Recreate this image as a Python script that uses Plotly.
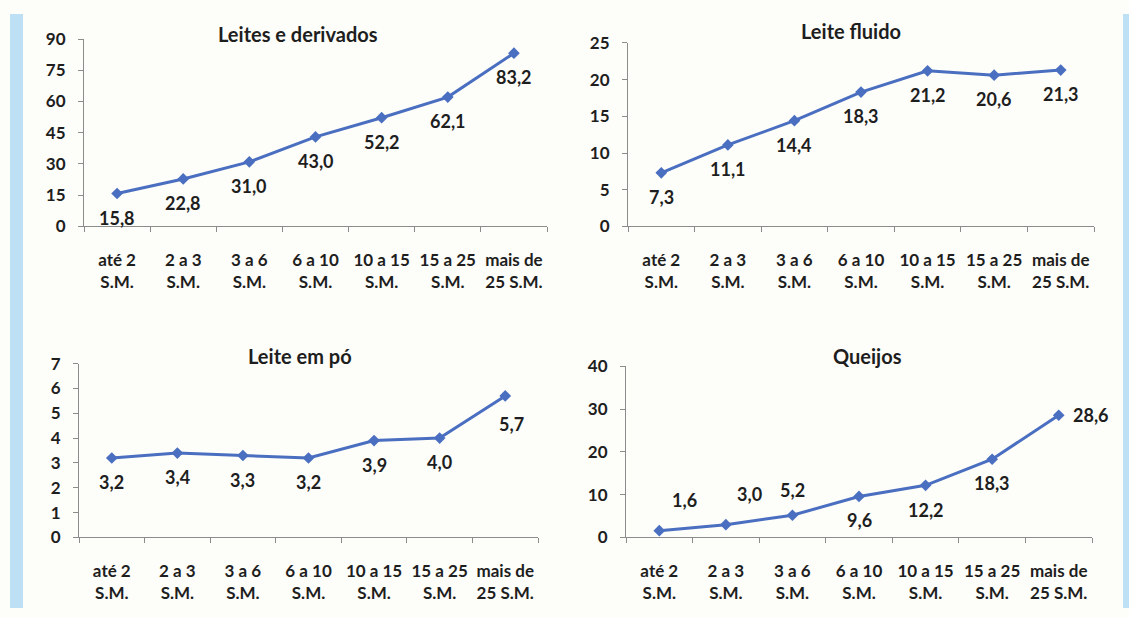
import plotly.graph_objects as go

categories = ["até 2<br>S.M.", "2 a 3<br>S.M.", "3 a 6<br>S.M.", "6 a 10<br>S.M.",
              "10 a 15<br>S.M.", "15 a 25<br>S.M.", "mais de<br>25 S.M."]

leites_derivados = [15.8, 22.8, 31.0, 43.0, 52.2, 62.1, 83.2]
leite_fluido = [7.3, 11.1, 14.4, 18.3, 21.2, 20.6, 21.3]
leite_po = [3.2, 3.4, 3.3, 3.2, 3.9, 4.0, 5.7]
queijos = [1.6, 3.0, 5.2, 9.6, 12.2, 18.3, 28.6]

titles = ["Leites e derivados", "Leite fluido", "Leite em pó", "Queijos"]
y_ranges = [(0, 90, 15), (0, 25, 5), (0, 7, 1), (0, 40, 10)]

# label offsets in px (xshift, yshift) per point (style only)
below = [(0, -24)] * 7
label_offsets = [
    below,
    below,
    [(0, -24)] * 6 + [(6, -28)],
    [(25, 31), (24, 31), (0, 25), (0, -24), (0, -25), (0, -24), (32, 0)],
]

W, H = 1129, 618
# plot areas in pixel coordinates: (x_left, x_right, y_top, y_bottom)
areas = [(84, 547, 29, 223), (628, 1094, 33, 223), (79, 538, 365, 545), (626, 1092, 368, 545)]
title_pos = [(298, 24), (851, 21), (300, 357), (867, 357)]

series = [leites_derivados, leite_fluido, leite_po, queijos]

LINE = "#4a6ec0"
FONT = "Lato"
TXT = "#1e1e1e"
BG = "#fdfdf9"
AXC = "#8c8c8c"

fig = go.Figure()
annotations = []
for i, (vals, (x0, x1, yt, yb)) in enumerate(zip(series, areas)):
    n = i + 1
    xa = "x" if n == 1 else f"x{n}"
    ya = "y" if n == 1 else f"y{n}"
    fig.add_trace(go.Scatter(
        x=categories, y=vals, mode="lines+markers",
        line=dict(color=LINE, width=3),
        marker=dict(symbol="diamond", size=9, color=LINE),
        xaxis=xa, yaxis=ya, showlegend=False, hoverinfo="skip"))
    lo, hi, dt = y_ranges[i]
    axx = dict(domain=[x0 / W, x1 / W], anchor=ya, type="category",
               range=[-0.5, 6.5], tickson="boundaries", ticks="outside", ticklen=5,
               tickcolor=AXC, showline=True, linecolor=AXC, linewidth=1,
               showgrid=False, zeroline=False, ticklabelstandoff=18, tickangle=0,
               tickfont=dict(family=FONT, size=17, color=TXT, weight="bold"))
    axy = dict(domain=[1 - yb / H, 1 - yt / H], anchor=xa, range=[lo, hi], dtick=dt,
               tick0=0, ticks="outside", ticklen=5, tickcolor=AXC,
               showline=True, linecolor=AXC, linewidth=1, showgrid=False,
               zeroline=False, ticklabelstandoff=9,
               tickfont=dict(family=FONT, size=17, color=TXT, weight="bold"))
    fig.layout[f"xaxis{'' if n == 1 else n}"] = axx
    fig.layout[f"yaxis{'' if n == 1 else n}"] = axy
    for j, v in enumerate(vals):
        dx, dy = label_offsets[i][j]
        annotations.append(dict(
            x=categories[j], y=v, xref=xa, yref=ya, text=f"{v:.1f}".replace(".", ","),
            showarrow=False, xshift=dx, yshift=dy,
            font=dict(family=FONT, size=18, color=TXT, weight="bold")))
    tx, ty = title_pos[i]
    annotations.append(dict(
        x=tx / W, y=1 - ty / H, xref="paper", yref="paper", text=titles[i],
        showarrow=False, xanchor="center", yanchor="middle",
        font=dict(family=FONT, size=20, color=TXT, weight="bold")))

shapes = [
    dict(type="rect", xref="paper", yref="paper", x0=10 / W, x1=23 / W, y0=0, y1=1 - 3 / H,
         fillcolor="#bde0f5", line=dict(width=0), layer="below"),
    dict(type="rect", xref="paper", yref="paper", x0=1123 / W, x1=1, y0=0, y1=1 - 3 / H,
         fillcolor="#bde0f5", line=dict(width=0), layer="below"),
]

fig.update_layout(
    width=W, height=H, margin=dict(l=0, r=0, t=0, b=0), autosize=False,
    paper_bgcolor=BG, plot_bgcolor=BG,
    annotations=annotations, shapes=shapes,
)

fig.write_html(
    "out.html",
    config={"responsive": False, "displayModeBar": False},
    post_script="document.body.style.margin='0';document.body.style.padding='0';"
                "document.body.style.overflow='hidden';",
)
